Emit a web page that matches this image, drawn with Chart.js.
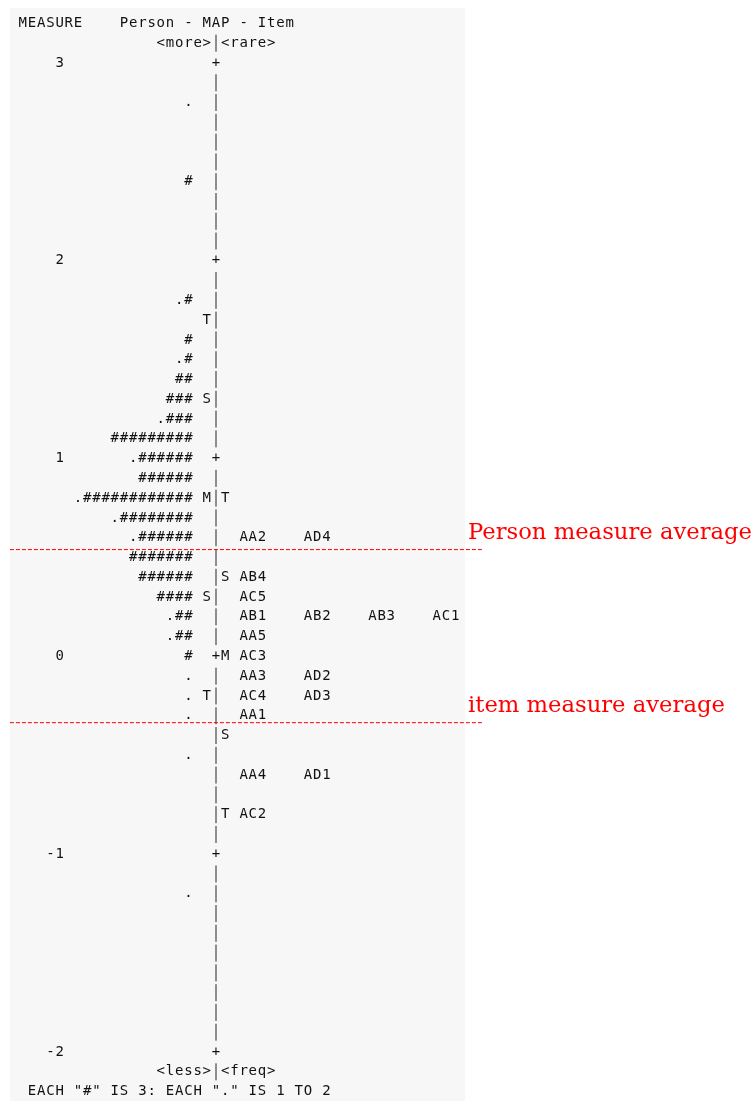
<!DOCTYPE html>
<html>
<head>
<meta charset="utf-8">
<title>Person - MAP - Item</title>
<script src="https://cdn.jsdelivr.net/npm/chart.js@4.4.1/dist/chart.umd.min.js"></script>
<style>
    html, body { margin: 0; padding: 0; background: #ffffff; }
    canvas { display: block; }
</style>
</head>
<body>
<canvas id="wrightmap" width="755" height="1104"></canvas>
<script>
"use strict";

// --- Person side: one row per 0.1 logit, dots and "#" counts
const personLevels = [2.8, 2.4, 1.8, 1.6, 1.5, 1.4, 1.3, 1.2, 1.1, 1.0, 0.9, 0.8, 0.7, 0.6, 0.5, 0.4, 0.3, 0.2, 0.1, 0.0, -0.1, -0.2, -0.3, -0.5, -1.2];
const personDots = [1, 0, 1, 0, 1, 0, 0, 1, 0, 1, 0, 1, 1, 1, 0, 0, 0, 1, 1, 0, 1, 1, 1, 1, 1];
const personHashes = [0, 1, 1, 1, 1, 2, 3, 3, 9, 6, 6, 12, 8, 6, 7, 6, 4, 2, 2, 1, 0, 0, 0, 0, 0];

// --- Item side
const itemLevels = [0.6, 0.4, 0.3, 0.2, 0.1, 0.0, -0.1, -0.2, -0.3, -0.6, -0.8];
const itemNames = [
    ["AA2", "AD4"],
    ["AB4"],
    ["AC5"],
    ["AB1", "AB2", "AB3", "AC1"],
    ["AA5"],
    ["AC3"],
    ["AA3", "AD2"],
    ["AC4", "AD3"],
    ["AA1"],
    ["AA4", "AD1"],
    ["AC2"],
];

// --- M / S / T markers
const personMarkLevels = [1.7, 1.3, 0.8, 0.3, -0.2];
const personMarkChars = ["T", "S", "M", "S", "T"];
const itemMarkLevels = [0.8, 0.4, 0.0, -0.4, -0.8];
const itemMarkChars = ["T", "S", "M", "S", "T"];

// --- measure scale
const measureMin = -2;
const measureMax = 3;
const measureStep = 0.1;

// --- averages marked on the map
const personMeanLevel = 0.54;
const itemMeanLevel = -0.335;
const personMeanLabel = "Person measure average";
const itemMeanLabel = "item measure average";

// --- texts
const headerTitle = "MEASURE    Person - MAP - Item";
const headerTop = "<more>|<rare>";
const footerBottom = "<less>|<freq>";
const footerNote = 'EACH "#" IS 3: EACH "." IS 1 TO 2';

// layout: x axis counted in character columns, bar column = 0
const COL_W = 9.2;
const BAR_X = 216;
const PERSON_END_COL = -3;
const ITEM_COL = 3;
const ITEM_GAP = 7;
const LABEL_END_COL = -17;
const MONO = "14px 'DejaVu Sans Mono', monospace";
const INK = "#111111";
const BAR_INK = "#4a4a4a";

function putChars(chart, text, col, y) {
    const ctx = chart.ctx;
    const xs = chart.scales.x;
    for (let i = 0; i < text.length; i++) {
        const ch = text[i];
        if (ch === " ") continue;
        const x = xs.getPixelForValue(col + i);
        if (ch === "|") {
            ctx.save();
            ctx.fillStyle = BAR_INK;
            ctx.fillRect(Math.round(x) - 0.6, y - 8.5, 1.2, 17);
            ctx.restore();
        } else {
            ctx.fillText(ch, x, y);
        }
    }
}

const wrightText = {
    id: "wrightText",
    beforeDraw(chart) {
        const ctx = chart.ctx;
        ctx.save();
        ctx.fillStyle = "#ffffff";
        ctx.fillRect(0, 0, chart.width, chart.height);
        ctx.fillStyle = "#f7f7f7";
        ctx.fillRect(10, 8, 455, 1093);
        ctx.restore();
    },
    beforeDatasetsDraw(chart) {
        const ctx = chart.ctx;
        const ys = chart.scales.y;
        ctx.save();
        ctx.font = MONO;
        ctx.fillStyle = INK;
        ctx.textAlign = "center";
        ctx.textBaseline = "middle";

        // header and footer rows sit one and two steps outside the scale
        const yRow = (v) => ys.getPixelForValue(v);
        putChars(chart, headerTitle, -21, yRow(measureMax + 2 * measureStep));
        putChars(chart, headerTop, -6, yRow(measureMax + measureStep));
        putChars(chart, footerBottom, -6, yRow(measureMin - measureStep));
        putChars(chart, footerNote, -20, yRow(measureMin - 2 * measureStep));

        // the centre column: "+" on whole logits, "|" between
        ys.ticks.forEach((t) => {
            const y = ys.getPixelForValue(t.value);
            const whole = Math.abs(t.value - Math.round(t.value)) < 1e-6;
            putChars(chart, whole ? "+" : "|", 0, y);
            if (whole) {
                const lab = String(Math.round(t.value));
                putChars(chart, lab, LABEL_END_COL - (lab.length - 1), y);
            }
        });

        // persons
        const pMeta = chart.getDatasetMeta(0);
        pMeta.data.forEach((el, i) => {
            const s = ".".repeat(personDots[i]) + "#".repeat(personHashes[i]);
            putChars(chart, s, PERSON_END_COL - (s.length - 1), el.y);
        });

        // items
        const iMeta = chart.getDatasetMeta(1);
        iMeta.data.forEach((el, i) => {
            itemNames[i].forEach((name, j) => {
                putChars(chart, name, ITEM_COL + j * ITEM_GAP, el.y);
            });
        });

        // markers
        personMarkLevels.forEach((v, i) => {
            putChars(chart, personMarkChars[i], -1, ys.getPixelForValue(v));
        });
        itemMarkLevels.forEach((v, i) => {
            putChars(chart, itemMarkChars[i], 1, ys.getPixelForValue(v));
        });
        ctx.restore();
    },
    afterDraw(chart) {
        const ctx = chart.ctx;
        const ys = chart.scales.y;
        ctx.save();
        ctx.font = "23px 'DejaVu Serif', serif";
        const sx = 284 / ctx.measureText(personMeanLabel).width;
        ctx.fillStyle = "#ff0000";
        ctx.textAlign = "left";
        ctx.textBaseline = "alphabetic";
        [[personMeanLabel, personMeanLevel], [itemMeanLabel, itemMeanLevel]].forEach(([txt, lvl]) => {
            ctx.save();
            ctx.translate(468, ys.getPixelForValue(lvl) - 11);
            ctx.scale(sx, 1);
            ctx.fillText(txt, 0, 0);
            ctx.restore();
        });
        ctx.restore();
    },
};

const lineFrom = -22.4;
const lineTo = 29.0;

document.addEventListener("DOMContentLoaded", function () {
    const canvas = document.getElementById("wrightmap");
    const ctx = canvas.getContext("2d");
    const xMin = -BAR_X / COL_W;
    const xMax = xMin + canvas.width / COL_W;

    new Chart(ctx, {
        type: "scatter",
        data: {
            datasets: [
                {
                    label: "Person",
                    data: personLevels.map((v) => ({ x: PERSON_END_COL, y: v })),
                    pointRadius: 0,
                    showLine: false,
                },
                {
                    label: "Item",
                    data: itemLevels.map((v) => ({ x: ITEM_COL, y: v })),
                    pointRadius: 0,
                    showLine: false,
                },
                {
                    label: personMeanLabel,
                    data: [{ x: lineFrom, y: personMeanLevel }, { x: lineTo, y: personMeanLevel }],
                    showLine: true,
                    borderColor: "#ff0000",
                    borderWidth: 1,
                    borderDash: [4, 2],
                    pointRadius: 0,
                },
                {
                    label: itemMeanLabel,
                    data: [{ x: lineFrom, y: itemMeanLevel }, { x: lineTo, y: itemMeanLevel }],
                    showLine: true,
                    borderColor: "#ff0000",
                    borderWidth: 1,
                    borderDash: [4, 2],
                    pointRadius: 0,
                },
            ],
        },
        options: {
            responsive: false,
            animation: false,
            layout: { padding: { top: 63, bottom: 52, left: 0, right: 0 } },
            plugins: {
                legend: { display: false },
                tooltip: { enabled: false },
            },
            scales: {
                x: { type: "linear", min: xMin, max: xMax, display: false },
                y: {
                    type: "linear",
                    min: measureMin,
                    max: measureMax,
                    display: false,
                    ticks: { stepSize: measureStep },
                },
            },
        },
        plugins: [wrightText],
    });
});
</script>
</body>
</html>
